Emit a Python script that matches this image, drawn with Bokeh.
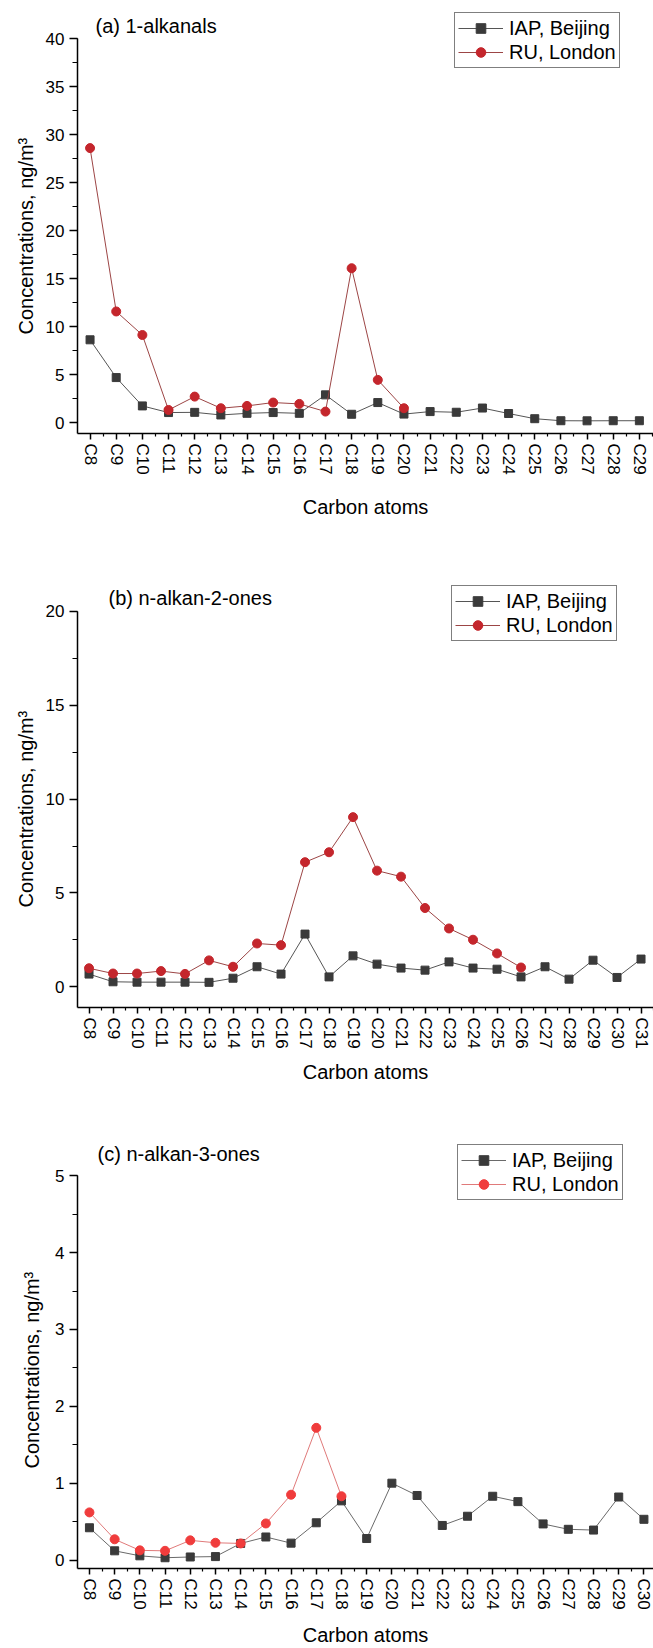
from bokeh.plotting import figure
from bokeh.layouts import column
from bokeh.models import (Range1d, FixedTicker, SingleIntervalTicker, Label, Title,
                          Legend, LegendItem, ColumnDataSource)
from bokeh.embed import file_html
from bokeh.resources import INLINE

FONT = "Liberation Sans"

# ---------------- data ----------------
cats_a = ["C8", "C9", "C10", "C11", "C12", "C13", "C14", "C15", "C16", "C17", "C18",
          "C19", "C20", "C21", "C22", "C23", "C24", "C25", "C26", "C27", "C28", "C29"]
iap_a = [8.65, 4.72, 1.77, 1.08, 1.10, 0.83, 1.00, 1.08, 1.00, 2.92, 0.90,
         2.12, 0.92, 1.18, 1.11, 1.55, 0.98, 0.44, 0.23, 0.22, 0.23, 0.23]
ru_a = [28.6, 11.6, 9.15, 1.35, 2.74, 1.53, 1.77, 2.12, 1.98, 1.18, 16.1,
        4.48, 1.53]

cats_b = ["C8", "C9", "C10", "C11", "C12", "C13", "C14", "C15", "C16", "C17", "C18",
          "C19", "C20", "C21", "C22", "C23", "C24", "C25", "C26", "C27", "C28", "C29",
          "C30", "C31"]
iap_b = [0.68, 0.27, 0.25, 0.25, 0.25, 0.24, 0.46, 1.07, 0.68, 2.81, 0.53,
         1.65, 1.21, 1.00, 0.89, 1.33, 1.00, 0.94, 0.53, 1.07, 0.41, 1.42,
         0.50, 1.48]
ru_b = [0.99, 0.71, 0.71, 0.84, 0.69, 1.41, 1.07, 2.31, 2.22, 6.64, 7.17,
        9.04, 6.19, 5.87, 4.20, 3.11, 2.51, 1.78, 1.03]

cats_c = ["C8", "C9", "C10", "C11", "C12", "C13", "C14", "C15", "C16", "C17", "C18",
          "C19", "C20", "C21", "C22", "C23", "C24", "C25", "C26", "C27", "C28", "C29",
          "C30"]
iap_c = [0.42, 0.12, 0.055, 0.03, 0.04, 0.045, 0.216, 0.30, 0.22, 0.485, 0.77,
         0.28, 1.00, 0.84, 0.45, 0.57, 0.83, 0.76, 0.47, 0.40, 0.39, 0.82, 0.53]
ru_c = [0.62, 0.27, 0.126, 0.12, 0.256, 0.225, 0.216, 0.476, 0.85, 1.72, 0.83]

series_names = ["IAP, Beijing", "RU, London"]
y_label = "Concentrations, ng/m\u00b3"
x_label = "Carbon atoms"


def panel(cats, iap, ru, title, height, b_left, b_bottom, xr, yr, y_top,
          y_interval, title_xy, legend_xy, ru_marker, ru_line, iap_line,
          xlab_standoff, ylab_offset, ylab_standoff):
    p = figure(width=653, height=height, output_backend="svg", toolbar_location=None,
               x_range=Range1d(*xr), y_range=Range1d(*yr),
               min_border_left=b_left, min_border_right=0,
               min_border_top=0, min_border_bottom=b_bottom)
    p.outline_line_color = None
    p.grid.visible = False
    p.background_fill_color = "white"
    p.border_fill_color = "white"

    n = len(cats)
    xs = list(range(n))
    src_i = ColumnDataSource(dict(x=xs, y=iap))
    src_r = ColumnDataSource(dict(x=xs[:len(ru)], y=ru))

    li = p.line("x", "y", source=src_i, line_color=iap_line, line_width=1)
    si = p.scatter("x", "y", source=src_i, marker="square", size=8,
                   fill_color="#3a3a3a", line_color="#3a3a3a")
    lr = p.line("x", "y", source=src_r, line_color=ru_line, line_width=1)
    sr = p.scatter("x", "y", source=src_r, marker="circle", size=9,
                   fill_color=ru_marker, line_color=ru_marker)

    # x axis
    xa = p.xaxis[0]
    xa.ticker = FixedTicker(ticks=xs, minor_ticks=[i + 0.5 for i in range(-1, n)])
    xa.major_label_overrides = {i: c for i, c in enumerate(cats)}
    xa.major_label_orientation = "vertical"
    xa.major_tick_out = 6
    xa.major_tick_in = 0
    xa.minor_tick_out = 3
    xa.minor_tick_in = 0
    xa.major_label_standoff = 4
    xa.axis_label = x_label
    xa.axis_label_standoff = xlab_standoff

    # y axis (line stops at the top tick value)
    ya = p.yaxis[0]
    ya.ticker = SingleIntervalTicker(interval=y_interval, num_minor_ticks=2)
    ya.bounds = (yr[0], y_top)
    ya.major_tick_out = 8
    ya.major_tick_in = 0
    ya.minor_tick_out = 5
    ya.minor_tick_in = 0
    ya.major_label_standoff = 5

    for ax in (xa, ya):
        ax.axis_line_color = "black"
        ax.axis_line_width = 1.5
        ax.major_tick_line_color = "black"
        ax.major_tick_line_width = 1.5
        ax.minor_tick_line_color = "black"
        ax.minor_tick_line_width = 1.2
        ax.major_label_text_font = FONT
        ax.major_label_text_font_size = "17px"
        ax.major_label_text_color = "black"
        ax.axis_label_text_font = FONT
        ax.axis_label_text_font_size = "20px"
        ax.axis_label_text_font_style = "normal"
        ax.axis_label_text_color = "black"

    # y-axis title, centred on the drawn axis line rather than the whole frame
    p.add_layout(Title(text=y_label, align="left", offset=ylab_offset,
                       vertical_align="middle", standoff=ylab_standoff,
                       text_font=FONT, text_font_size="20px",
                       text_font_style="normal", text_color="black"), "left")

    p.add_layout(Label(x=title_xy[0], y=title_xy[1], x_units="screen", y_units="screen",
                       text=title, text_font=FONT, text_font_size="20px",
                       text_baseline="middle", text_color="black"))

    legend = Legend(items=[LegendItem(label=series_names[0], renderers=[li, si]),
                           LegendItem(label=series_names[1], renderers=[lr, sr])],
                    location=legend_xy)
    legend.border_line_color = "black"
    legend.border_line_width = 1.3
    legend.background_fill_color = "white"
    legend.background_fill_alpha = 1
    legend.padding = 3
    legend.spacing = 0
    legend.margin = 0
    legend.glyph_width = 45
    legend.glyph_height = 24
    legend.label_height = 24
    legend.label_width = 104
    legend.label_standoff = 6
    legend.label_text_font = FONT
    legend.label_text_font_size = "20px"
    legend.label_text_color = "black"
    p.add_layout(legend, "center")
    return p


pa = panel(cats_a, iap_a, ru_a, "(a) 1-alkanals", 560, 77, 127,
           (-0.48, 21.54), (-1.1, 43.96), 40, 5, (18, 408), (377, 365),
           "#c4262c", "#9c4545", "#555555", 18, 99, 10)
pb = panel(cats_b, iap_b, ru_b, "(b) n-alkan-2-ones", 550, 77, 103,
           (-0.48, 23.52), (-1.1, 22.71), 20, 5, (31, 410), (374, 366),
           "#c4262c", "#9c4545", "#555555", 9, 100, 10)
pc = panel(cats_c, iap_c, ru_c, "(c) n-alkan-3-ones", 538, 74, 75,
           (-0.474, 22.38), (-0.11, 5.849), 5, 1, (20, 415), (380, 368),
           "#f03c3c", "#e07a7a", "#6a6a6a", 11, 100, 18)

layout = column(pa, pb, pc, spacing=0)
open("out.html", "w").write(file_html(layout, INLINE))
